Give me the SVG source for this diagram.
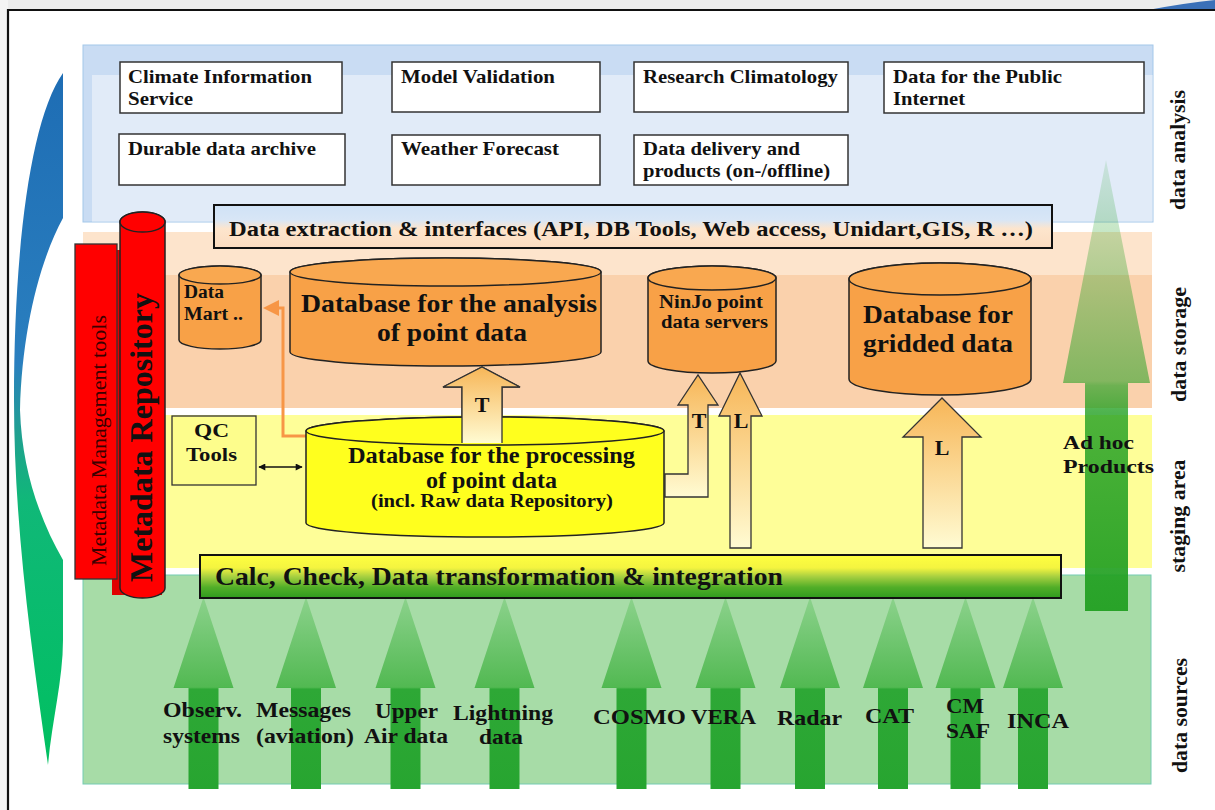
<svg xmlns="http://www.w3.org/2000/svg" width="1215" height="810" viewBox="0 0 1215 810">
<defs>
<style>
text{font-family:"Liberation Serif","Times New Roman",serif;font-weight:bold;fill:#111;}
.b19{font-size:19px;}
.b18{font-size:18.5px;}
.b21{font-size:21px;}
.b24{font-size:24.5px;}
.b22{font-size:22px;}
.side{font-size:21px;font-weight:normal;}
.side2{font-size:21px;}
.box{fill:#fff;stroke:#333;stroke-width:1.5;}
.cylo{fill:#f8a147;stroke:#222;stroke-width:1.5;}
.cyloTop{fill:#f9a850;stroke:#222;stroke-width:1.5;}
.cyly{fill:#ffff1e;stroke:#222;stroke-width:1.5;}
.blk{fill:url(#gBlk);stroke:#333;stroke-width:1.3;}
.src{fill:url(#gSrc);}
</style>
<linearGradient id="gSwoosh" gradientUnits="userSpaceOnUse" x1="0" y1="73" x2="0" y2="765">
<stop offset="0" stop-color="#1e6db4"/>
<stop offset="0.42" stop-color="#2a7fbf"/>
<stop offset="0.52" stop-color="#1fa090"/>
<stop offset="0.62" stop-color="#10b878"/>
<stop offset="1" stop-color="#00c060"/>
</linearGradient>
<linearGradient id="gExt" x1="0" y1="0" x2="0" y2="1">
<stop offset="0" stop-color="#d0e2f6"/>
<stop offset="0.35" stop-color="#d8e6f6"/>
<stop offset="0.55" stop-color="#fde5cd"/>
<stop offset="1" stop-color="#fbdcc0"/>
</linearGradient>
<linearGradient id="gBlk" x1="0" y1="0" x2="0" y2="1">
<stop offset="0" stop-color="#f7b658"/>
<stop offset="1" stop-color="#fffbd2"/>
</linearGradient>
<linearGradient id="gCalc" x1="0" y1="0" x2="0" y2="1">
<stop offset="0" stop-color="#ffff40"/>
<stop offset="0.3" stop-color="#f4f440"/>
<stop offset="0.5" stop-color="#a8d040"/>
<stop offset="0.75" stop-color="#52ae28"/>
<stop offset="1" stop-color="#2f9a1e"/>
</linearGradient>
<linearGradient id="gSrc" x1="0" y1="0" x2="0" y2="1">
<stop offset="0" stop-color="#8cd28c"/>
<stop offset="0.47" stop-color="#52b952"/>
<stop offset="0.48" stop-color="#2ea836"/>
<stop offset="1" stop-color="#27a530"/>
</linearGradient>
<linearGradient id="gAdhoc" gradientUnits="userSpaceOnUse" x1="0" y1="160" x2="0" y2="611">
<stop offset="0" stop-color="#22a022" stop-opacity="0.12"/>
<stop offset="0.49" stop-color="#22a022" stop-opacity="0.55"/>
<stop offset="0.5" stop-color="#22a022" stop-opacity="0.65"/>
<stop offset="0.56" stop-color="#22a022" stop-opacity="0.8"/>
<stop offset="1" stop-color="#22a022" stop-opacity="0.95"/>
</linearGradient>
<marker id="ah" viewBox="0 0 10 10" refX="9" refY="5" markerWidth="9" markerHeight="7" markerUnits="userSpaceOnUse" orient="auto-start-reverse">
<path d="M0,0 L10,5 L0,10 z" fill="#111"/>
</marker>
</defs>

<!-- background -->
<rect x="0" y="0" width="1215" height="810" fill="#fff"/>
<rect x="0" y="0" width="1215" height="10" fill="#ececec"/>
<rect x="0" y="0" width="8" height="810" fill="#f4f4f4"/>
<path d="M1148,10 Q1185,3 1215,0 L1215,10 Z" fill="#3a70b8"/>
<path d="M8,810 L8,10 L1215,10" fill="none" stroke="#111" stroke-width="2.2"/>

<!-- left swoosh -->
<path d="M63,73 C30,120 14,250 14,400 C14,520 30,640 48,765 C52,720 63,680 63,640 L63,560 C40,520 22,470 20,410 C22,330 40,260 63,218 Z" fill="url(#gSwoosh)"/>

<!-- layers -->
<g id="layer-analysis">
<rect x="83" y="45" width="1070" height="177" fill="#c9dcf3" stroke="#a3c8ea" stroke-width="1"/>
<rect x="92" y="75" width="1060.5" height="146.5" fill="#e1ebf8"/>
</g>
<g id="layer-storage">
<rect x="83" y="232" width="1069" height="176" fill="#fde4cc"/>
<rect x="83" y="275" width="1069" height="133" fill="#fad1ac"/>
</g>
<g id="layer-staging">
<rect x="83" y="415" width="1069" height="153" fill="#fefe98"/>
</g>
<g id="layer-sources">
<rect x="83" y="575" width="1068" height="209" fill="#a7dca7" stroke="#74cbb3" stroke-width="1"/>
</g>

<!-- top boxes -->
<g id="n-climate"><rect class="box" x="120" y="62" width="222" height="51"/>
<text class="b19" x="128" y="83" textLength="184" lengthAdjust="spacingAndGlyphs">Climate Information</text>
<text class="b19" x="128" y="105" textLength="65" lengthAdjust="spacingAndGlyphs">Service</text></g>
<g id="n-model"><rect class="box" x="392" y="62" width="208" height="50"/>
<text class="b19" x="401" y="83" textLength="154" lengthAdjust="spacingAndGlyphs">Model Validation</text></g>
<g id="n-research"><rect class="box" x="634" y="62" width="214" height="50"/>
<text class="b19" x="643" y="83" textLength="195" lengthAdjust="spacingAndGlyphs">Research Climatology</text></g>
<g id="n-public"><rect class="box" x="884" y="62" width="260" height="51"/>
<text class="b19" x="893" y="83" textLength="169" lengthAdjust="spacingAndGlyphs">Data for the Public</text>
<text class="b19" x="893" y="105" textLength="72" lengthAdjust="spacingAndGlyphs">Internet</text></g>
<g id="n-durable"><rect class="box" x="119" y="134" width="226" height="51"/>
<text class="b19" x="128" y="155" textLength="188" lengthAdjust="spacingAndGlyphs">Durable data archive</text></g>
<g id="n-weather"><rect class="box" x="392" y="135" width="208" height="50"/>
<text class="b19" x="401" y="155" textLength="158" lengthAdjust="spacingAndGlyphs">Weather Forecast</text></g>
<g id="n-delivery"><rect class="box" x="634" y="135" width="214" height="50"/>
<text class="b19" x="643" y="155" textLength="157" lengthAdjust="spacingAndGlyphs">Data delivery and</text>
<text class="b19" x="643" y="177" textLength="187" lengthAdjust="spacingAndGlyphs">products (on-/offline)</text></g>

<!-- extraction bar -->
<g id="n-extraction"><rect x="214" y="205" width="838" height="43" fill="url(#gExt)" stroke="#111" stroke-width="2"/>
<text style="font-size:20.5px" x="229" y="236" textLength="804" lengthAdjust="spacingAndGlyphs">Data extraction &amp; interfaces (API, DB Tools, Web access, Unidart,GIS, R  …)</text></g>

<!-- metadata -->
<g id="n-metadata-tools">
<rect x="112" y="250" width="50" height="345" fill="#e00000"/>
<rect x="75" y="244" width="42" height="335" fill="#ff0000" stroke="#333" stroke-width="1.3"/>
<text class="side" style="fill:#3a0000" transform="translate(106,440.5) rotate(-90)" text-anchor="middle" textLength="251" lengthAdjust="spacingAndGlyphs">Metadata Management tools</text>
</g>
<g id="n-metadata-repo">
<path d="M120,222 L120,588 A22.5,10 0 0 0 165,588 L165,222 A22.5,10 0 0 0 120,222 Z" fill="#ff0000" stroke="#222" stroke-width="1.5"/>
<ellipse cx="142.5" cy="222" rx="22.5" ry="10" fill="#ff0000" stroke="#222" stroke-width="1.5"/>
<text style="font-size:32px" transform="translate(152,437.5) rotate(-90)" text-anchor="middle" textLength="289" lengthAdjust="spacingAndGlyphs">Metadata Repository</text>
</g>

<!-- storage cylinders -->
<g id="n-datamart">
<path class="cylo" d="M179,275 L179,340 A41,9 0 0 0 261,340 L261,275 A41,9 0 0 0 179,275 Z"/>
<ellipse class="cyloTop" cx="220" cy="275" rx="41" ry="9"/>
<text style="font-size:18px" x="184" y="298" textLength="40" lengthAdjust="spacingAndGlyphs">Data</text>
<text style="font-size:18px" x="184" y="320" textLength="59" lengthAdjust="spacingAndGlyphs">Mart ..</text>
</g>
<g id="n-analysis-db">
<path class="cylo" d="M290,272 L290,352 A155.5,14 0 0 0 601,352 L601,272 A155.5,14 0 0 0 290,272 Z"/>
<ellipse class="cyloTop" cx="445.5" cy="272" rx="155.5" ry="14"/>
<text class="b24" x="301" y="312" textLength="296" lengthAdjust="spacingAndGlyphs">Database for the analysis</text>
<text class="b24" x="377" y="341" textLength="150" lengthAdjust="spacingAndGlyphs">of point data</text>
</g>
<g id="n-ninjo">
<path class="cylo" d="M648,278 L648,361 A64,12 0 0 0 776,361 L776,278 A64,12 0 0 0 648,278 Z"/>
<ellipse class="cyloTop" cx="712" cy="278" rx="64" ry="12"/>
<text class="b18" x="659" y="308" textLength="104" lengthAdjust="spacingAndGlyphs">NinJo point</text>
<text class="b18" x="661" y="328" textLength="107" lengthAdjust="spacingAndGlyphs">data servers</text>
</g>
<g id="n-gridded">
<path class="cylo" d="M849,279 L849,379 A91,16 0 0 0 1031,379 L1031,279 A91,16 0 0 0 849,279 Z"/>
<ellipse class="cyloTop" cx="940" cy="279" rx="91" ry="16"/>
<text class="b24" x="863" y="323" textLength="150" lengthAdjust="spacingAndGlyphs">Database for</text>
<text class="b24" x="863" y="352" textLength="150" lengthAdjust="spacingAndGlyphs">gridded data</text>
</g>

<!-- staging -->
<g id="n-qc">
<rect x="172" y="416" width="84" height="69" fill="#fdfd8c" stroke="#333" stroke-width="1.3"/>
<text class="b19" x="194" y="437" textLength="35" lengthAdjust="spacingAndGlyphs">QC</text>
<text class="b19" x="186" y="461" textLength="51" lengthAdjust="spacingAndGlyphs">Tools</text>
</g>

<!-- connectors -->
<g id="connectors">
<line x1="259" y1="467" x2="302" y2="467" stroke="#111" stroke-width="1.6" marker-start="url(#ah)" marker-end="url(#ah)"/>
<polyline points="306,436 283,436 283,308 276,308" fill="none" stroke="#f79646" stroke-width="3"/>
<polygon points="263,308 279,300 279,316" fill="#f79646"/>
<polygon class="blk" points="462,443 462,387 443,387 482,367 520,387 502,387 502,443"/>
<polygon class="blk" points="665,474 688,474 688,405 678,405 698,375 718,405 708,405 708,497 665,497"/>
<polygon class="blk" points="730,548 730,416 719,416 740,373 762,416 751,416 751,548"/>
<polygon class="blk" points="923,548 923,437 903,437 942,398 981,437 962,437 962,548"/>
</g>

<g id="n-processing-db">
<path class="cyly" d="M306,431 L306,523 A179,14 0 0 0 664,523 L664,431 A179,14 0 0 0 306,431 Z"/>
<ellipse class="cyly" cx="485" cy="431" rx="179" ry="14"/>
<text style="font-size:22.5px" x="348" y="463" textLength="287" lengthAdjust="spacingAndGlyphs">Database for the processing</text>
<text style="font-size:22.5px" x="426" y="488" textLength="131" lengthAdjust="spacingAndGlyphs">of point data</text>
<text class="b18" x="371" y="507" textLength="242" lengthAdjust="spacingAndGlyphs">(incl. Raw data Repository)</text>
</g>

<!-- T arrow redrawn over processing cylinder top, and arrow labels -->
<g id="arrow-labels">
<polygon class="blk" points="462,443 462,387 443,387 482,367 520,387 502,387 502,443" style="stroke:none"/>
<polyline points="462,443 462,387 443,387 482,367 520,387 502,387 502,443" fill="none" stroke="#333" stroke-width="1.3"/>
<text class="b22" x="482" y="412" text-anchor="middle">T</text>
<text class="b22" x="699" y="428" text-anchor="middle">T</text>
<text class="b22" x="741" y="428" text-anchor="middle">L</text>
<text class="b22" x="942" y="455" text-anchor="middle">L</text>
</g>

<!-- ad hoc arrow -->
<g id="n-adhoc">
<polygon points="1106,160 1150,383 1128,383 1128,611 1085,611 1085,383 1063,383" fill="url(#gAdhoc)"/>
<text style="font-size:19.5px" x="1063" y="449" textLength="71" lengthAdjust="spacingAndGlyphs">Ad hoc</text>
<text style="font-size:19.5px" x="1063" y="473" textLength="91" lengthAdjust="spacingAndGlyphs">Products</text>
</g>

<!-- source arrows -->
<g id="source-arrows">
<polygon class="src" points="203.5,597 233.5,688 218.5,688 218.5,789 188.5,789 188.5,688 173.5,688"/>
<polygon class="src" points="306,597 336,688 321,688 321,789 291,789 291,688 276,688"/>
<polygon class="src" points="405.5,597 435.5,688 420.5,688 420.5,789 390.5,789 390.5,688 375.5,688"/>
<polygon class="src" points="504.5,597 534.5,688 519.5,688 519.5,789 489.5,789 489.5,688 474.5,688"/>
<polygon class="src" points="631.5,597 661.5,688 646.5,688 646.5,789 616.5,789 616.5,688 601.5,688"/>
<polygon class="src" points="725.5,597 755.5,688 740.5,688 740.5,789 710.5,789 710.5,688 695.5,688"/>
<polygon class="src" points="810,597 840,688 825,688 825,789 795,789 795,688 780,688"/>
<polygon class="src" points="893,597 923,688 908,688 908,789 878,789 878,688 863,688"/>
<polygon class="src" points="965.5,597 995.5,688 980.5,688 980.5,789 950.5,789 950.5,688 935.5,688"/>
<polygon class="src" points="1033,597 1063,688 1048,688 1048,789 1018,789 1018,688 1003,688"/>
</g>

<!-- calc bar -->
<g id="n-calc">
<rect x="200" y="555" width="861" height="43" fill="url(#gCalc)" stroke="#111" stroke-width="2"/>
<text class="b24" x="215" y="585" textLength="568" lengthAdjust="spacingAndGlyphs">Calc, Check, Data transformation &amp; integration</text>
</g>

<!-- source labels -->
<g id="n-sources">
<text class="b21" x="163" y="717" textLength="79" lengthAdjust="spacingAndGlyphs">Observ.</text>
<text class="b21" x="163" y="743" textLength="77" lengthAdjust="spacingAndGlyphs">systems</text>
<text class="b21" x="256" y="717" textLength="95" lengthAdjust="spacingAndGlyphs">Messages</text>
<text class="b21" x="256" y="743" textLength="98" lengthAdjust="spacingAndGlyphs">(aviation)</text>
<text class="b21" x="375" y="718" textLength="63" lengthAdjust="spacingAndGlyphs">Upper</text>
<text class="b21" x="364" y="743" textLength="84" lengthAdjust="spacingAndGlyphs">Air data</text>
<text class="b21" x="453" y="720" textLength="100" lengthAdjust="spacingAndGlyphs">Lightning</text>
<text class="b21" x="479" y="744" textLength="44" lengthAdjust="spacingAndGlyphs">data</text>
<text class="b21" x="593" y="724" textLength="93" lengthAdjust="spacingAndGlyphs">COSMO</text>
<text class="b21" x="691" y="724" textLength="65" lengthAdjust="spacingAndGlyphs">VERA</text>
<text class="b21" x="777" y="725" textLength="65" lengthAdjust="spacingAndGlyphs">Radar</text>
<text class="b21" x="865" y="723" textLength="49" lengthAdjust="spacingAndGlyphs">CAT</text>
<text class="b21" x="946" y="713" textLength="38" lengthAdjust="spacingAndGlyphs">CM</text>
<text class="b21" x="946" y="738" textLength="44" lengthAdjust="spacingAndGlyphs">SAF</text>
<text class="b21" x="1007" y="728" textLength="62" lengthAdjust="spacingAndGlyphs">INCA</text>
</g>

<!-- side labels -->
<g id="side-labels">
<text class="side2" transform="translate(1185,150) rotate(-90)" text-anchor="middle" textLength="120" lengthAdjust="spacingAndGlyphs">data analysis</text>
<text class="side2" transform="translate(1186,344.5) rotate(-90)" text-anchor="middle" textLength="115" lengthAdjust="spacingAndGlyphs">data storage</text>
<text class="side2" transform="translate(1185,516) rotate(-90)" text-anchor="middle" textLength="113" lengthAdjust="spacingAndGlyphs">staging area</text>
<text class="side2" transform="translate(1187,715.5) rotate(-90)" text-anchor="middle" textLength="115" lengthAdjust="spacingAndGlyphs">data sources</text>
</g>
</svg>
